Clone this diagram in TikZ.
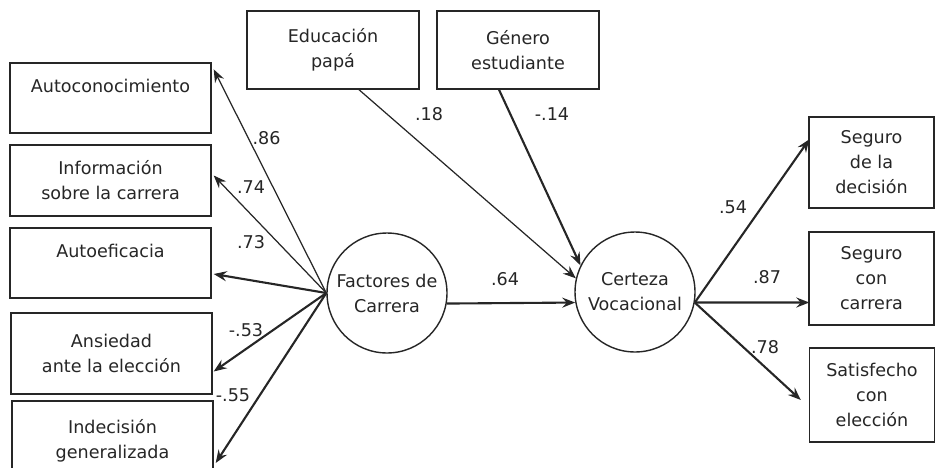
\documentclass[tikz,border=0pt]{standalone}
\usepackage{fontspec}
\setmainfont{DejaVu Sans}
\usetikzlibrary{arrows.meta, calc}
\definecolor{ink}{HTML}{262626}

\begin{document}
\begin{tikzpicture}[x=0.02cm, y=-0.02cm,
		font=\fontsize{10}{14.2}\selectfont, text=ink,
		box/.style={draw=ink, line width=0.8pt, align=center, inner sep=0pt, minimum width=4.02cm},
		sidebox/.style={box, minimum width=2.5cm},
		latent/.style={draw=ink, line width=0.8pt, circle, align=center, inner sep=0pt, minimum size=2.4cm},
		thinpath/.style={draw=ink, line width=0.7pt, -{Stealth[length=2.6mm, width=2mm, inset=0.9mm]}},
		thickpath/.style={thinpath, line width=1.2pt},
		coef/.style={inner sep=0pt}]
		\useasboundingbox (0,0) rectangle (936,467);

		% Indicators of the career factors
		\node[box, minimum height=1.4cm] (auto) at (110.5,98) {Autoconocimiento\\ ~};
		\node[box, minimum height=1.42cm] (info) at (110.5,180.5) {Información\\ sobre la carrera};
		\node[box, minimum height=1.4cm] (autoef) at (110.5,263) {Autoeficacia\\ ~};
		\node[box, minimum height=1.62cm] (ansi) at (111.5,353.5) {Ansiedad\\ ante la elección};
		\node[box, minimum height=1.6cm] (indec) at (112.5,441) {Indecisión\\ generalizada};

		% Covariates on top
		\node[box, minimum width=3.44cm, minimum height=1.56cm] (edu) at (333,50) {Educación\\ papá};
		\node[box, minimum width=3.24cm, minimum height=1.56cm] (gen) at (518,50) {Género\\ estudiante};

		% Latent variables
		\node[latent] (fac) at (387,293) {Factores de\\ Carrera};
		\node[latent] (cert) at (635,292) {Certeza\\ Vocacional};

		% Indicators of the vocational certainty
		\node[sidebox, minimum height=1.82cm] (seg1) at (871.5,162.5) {Seguro\\ de la\\ decisión};
		\node[sidebox, minimum height=1.86cm] (seg2) at (871.5,278.5) {Seguro\\ con\\ carrera};
		\node[sidebox, minimum height=1.88cm] (sat) at (872,395) {Satisfecho\\ con\\ elección};

		% Loadings of the career factors
		\draw[thinpath] (fac.west) -- ($(auto.north east)+(2,7)$);
		\draw[thinpath] (fac.west) -- ($(info.east)+(2,-5)$);
		\draw[thickpath] (fac.west) -- ($(autoef.east)+(2,11)$);
		\draw[thickpath] (fac.west) -- ($(ansi.east)+(1,18)$);
		\draw[thickpath] (fac.west) -- ($(indec.east)+(2,22)$);

		% Paths into the vocational certainty
		\draw[thinpath] ($(edu.south)+(26,0)$) -- (cert.167);
		\draw[thickpath] ($(gen.south)+(-19,0)$) -- (cert.154);
		\draw[thickpath] (fac.-10) -- (cert.190);

		% Loadings of the vocational certainty
		\draw[thickpath] (cert.-10) -- ($(seg1.north west)+(1,23)$);
		\draw[thickpath] (cert.-10) -- ($(seg2.west)+(1,24)$);
		\draw[thickpath] (cert.-10) -- ($(sat.west)+(-8,5)$);

		% Coefficients
		\node[coef] (c86) at (266.5,138) {.86};
		\node[coef] (c74) at (251,187) {.74};
		\node[coef] (c73) at (251,242) {.73};
		\node[coef] (c53) at (246,330) {-.53};
		\node[coef] (c55) at (233,395) {-.55};
		\node[coef] (c18) at (429,114) {.18};
		\node[coef] (c14) at (552,114) {-.14};
		\node[coef] (c64) at (505,279) {.64};
		\node[coef] (c54) at (733,207) {.54};
		\node[coef] (c87) at (767,277) {.87};
		\node[coef] (c78) at (765,347) {.78};

	\end{tikzpicture}
\end{document}
